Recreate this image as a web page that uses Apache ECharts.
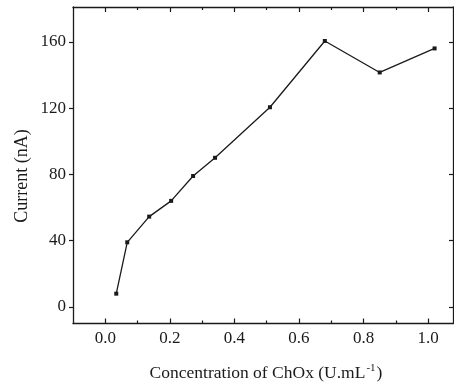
<!DOCTYPE html>
<html>
<head>
<meta charset="utf-8">
<script src="https://cdn.jsdelivr.net/npm/echarts@6/dist/echarts.min.js"></script>
<style>
  html, body { margin: 0; padding: 0; background: #fff; }
  #chart { width: 454px; height: 389px; }
</style>
</head>
<body>
<div id="chart"></div>
<script>
// Enzyme loading (U/mL) vs. measured current (nA)
const chOxConcentration = [0.034, 0.068, 0.136, 0.204, 0.272, 0.34, 0.51, 0.68, 0.85, 1.02];
const currentNA = [8, 39, 54.5, 64, 79, 90, 120.5, 160.5, 141.5, 156];

const xMajorTicks = [0.0, 0.2, 0.4, 0.6, 0.8, 1.0];
const xMinorTicks = [0.1, 0.3, 0.5, 0.7, 0.9];
const yMajorTicks = [0, 40, 80, 120, 160];

const FONT = '"Liberation Serif", "DejaVu Serif", serif';
const INK = '#1a1a1a';

const points = chOxConcentration.map((x, i) => [x, currentNA[i]]);

const xRange = { min: -0.1, max: 1.077 };
const yRange = { min: -10, max: 181 };

function xAxisDef(position, ticks, len, showLine, showLabels) {
  return {
    type: 'value',
    position: position,
    min: xRange.min,
    max: xRange.max,
    axisLine: { show: showLine, onZero: false, lineStyle: { color: INK, width: 1.3 } },
    axisTick: { show: true, inside: true, length: len, customValues: ticks,
                lineStyle: { color: INK, width: 1.2 } },
    axisLabel: {
      show: showLabels, customValues: ticks, margin: 7,
      formatter: v => Number(v).toFixed(1),
      fontFamily: FONT, fontSize: 17, color: INK
    },
    splitLine: { show: false }
  };
}

function yAxisDef(position, inside, showLabels) {
  return {
    type: 'value',
    position: position,
    min: yRange.min,
    max: yRange.max,
    axisLine: { show: true, onZero: false, lineStyle: { color: INK, width: 1.3 } },
    axisTick: { show: true, inside: inside, length: 4, customValues: yMajorTicks,
                lineStyle: { color: INK, width: 1.2 } },
    axisLabel: {
      show: showLabels, customValues: yMajorTicks, margin: 7,
      fontFamily: FONT, fontSize: 17, color: INK
    },
    splitLine: { show: false }
  };
}

const chart = echarts.init(document.getElementById('chart'), null, { renderer: 'canvas' });

chart.setOption({
  backgroundColor: '#ffffff',
  animation: false,
  grid: { left: 73, right: 1, top: 7, bottom: 65.5, containLabel: false },
  xAxis: [
    xAxisDef('bottom', xMajorTicks, 5, true, true),
    xAxisDef('bottom', xMinorTicks, 3, false, false),
    xAxisDef('top', xMajorTicks, 5, true, false),
    xAxisDef('top', xMinorTicks, 3, false, false)
  ],
  yAxis: [
    yAxisDef('left', false, true),
    yAxisDef('right', true, false)
  ],
  graphic: [
    {
      type: 'text',
      x: 266, y: 373,
      style: {
        text: '{n|Concentration of ChOx (U.mL}{s|-1}{n|)}',
        align: 'center', verticalAlign: 'middle',
        rich: {
          n: { fontFamily: FONT, fontSize: 17.5, fill: INK },
          s: { fontFamily: FONT, fontSize: 11, fill: INK, verticalAlign: 'top', padding: [0, 1, 10, 1] }
        }
      }
    },
    {
      type: 'text',
      x: 22, y: 176,
      rotation: Math.PI / 2,
      style: {
        text: 'Current (nA)',
        align: 'center', verticalAlign: 'middle',
        fontFamily: FONT, fontSize: 18, fill: INK
      }
    }
  ],
  series: [
    {
      type: 'line',
      xAxisIndex: 0,
      yAxisIndex: 0,
      data: points,
      symbol: 'rect',
      symbolSize: 4,
      itemStyle: { color: INK },
      lineStyle: { color: INK, width: 1.3 }
    }
  ]
});
</script>
</body>
</html>
